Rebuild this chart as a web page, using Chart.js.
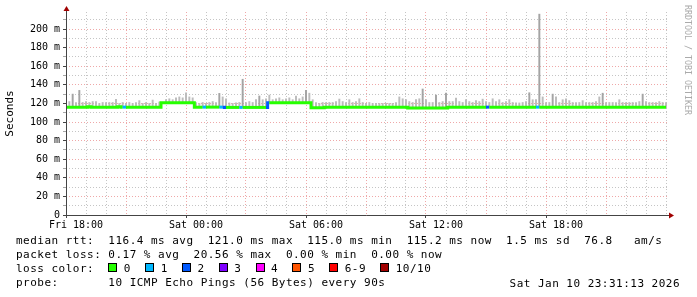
<!DOCTYPE html>
<html>
<head>
<meta charset="utf-8">
<title>smokeping median rtt</title>
<script src="https://cdn.jsdelivr.net/npm/chart.js@4.4.1/dist/chart.umd.min.js"></script>
<style>
  html, body { margin: 0; padding: 0; background: #fff; }
  #wrap { position: relative; width: 697px; height: 297px; overflow: hidden; }
  #c { position: absolute; left: 0; top: 0; }
  .stats {
    position: absolute; left: 16px; top: 233.5px; margin: 0;
    font: 11px 'DejaVu Sans Mono', monospace; letter-spacing: 0.48px;
    line-height: 14.33px; white-space: pre; color: #000;
  }
  .sw { display: inline-block; width: 7px; height: 7px; border: 1px solid #000;
        margin-right: 6.5px; vertical-align: 0px; }
  .stamp {
    position: absolute; right: 17px; top: 276.5px;
    font: 11px 'DejaVu Sans Mono', monospace; letter-spacing: 0.48px;
    line-height: 14.33px; white-space: pre; color: #000;
  }
  .mark {
    position: absolute; left: 683px; top: 5px;
    writing-mode: vertical-rl; font: 8.3px 'DejaVu Sans Mono', monospace;
    line-height: 9px; color: #aaa; white-space: pre;
  }
</style>
</head>
<body>
<div id="wrap">
  <canvas id="c" width="697" height="297"></canvas>
  <pre class="stats" id="stats"></pre>
  <div class="stamp" id="stamp"></div>
  <div class="mark">RRDTOOL / TOBI OETIKER</div>
</div>
<script>
// ---------- time axis (hours counted from Fri 00:00) ----------
const slotStart = 17.5;     // Fri 17:30
const slotMinutes = 10;
const axisMin = 17.5, axisMax = 47.6;
const xLabelHours = [18, 24, 30, 36, 42];
const xLabelText  = ['Fri 18:00', 'Sat 00:00', 'Sat 06:00', 'Sat 12:00', 'Sat 18:00'];
const yTickValues = [0,10,20,30,40,50,60,70,80,90,100,110,120,130,140,150,160,170,180,190,200,210];
const yMax = 218.3;

// ---------- median rtt (ms), one value per 10 min, one row per hour ----------
const median = [
  116,116,116,116,116,116,
  116,116.3,116,116,116,116,
  116,116,116,116,116.3,116,
  116,116,116,116,116,116,
  116,116,116,116,116,120.6,
  120.6,120.6,120.6,120.6,120.6,120.6,
  120.6,120.6,120.6,115.8,116,116,
  116,116,116,116,116,116,
  115.7,115.7,115.7,115.7,115.7,115.7,
  115.7,115.7,115.7,115.7,115.7,115.7,
  115.7,120.6,120.6,120.6,120.6,120.6,
  120.6,120.6,120.6,120.6,120.6,120.6,
  120.6,120.6,115.3,115.3,115.3,115.3,
  116,116,116,116,116,116,
  116,116,116,116,116,116,
  116,116,116,116,116,116,
  116,116,116,116,116,116,
  116,115,115,115,115,115,
  115,115,115,115,115,115,
  115,116,116,116,116,116,
  116,116,116,116,116,116,
  116,116,116,116,116,116,
  116,116,116,116,116,116,
  116,116,116,116,116,116,
  116,116,116,116,116,116,
  116,116,116,116,116,116,
  116,116,116,116,116,116,
  116,116,116,116,116,116,
  116,116,116,116,116,116,
  116,116,116,116,116,116,
  116
];

// ---------- smoke: highest ping per slot (ms) ----------
const smokeTop = [
  121,122,130,121,134,121,
  122,121,122,122,120,121,
  121,121,121,124.4,120,121,
  120,121,120,121,123,120,
  121,120,123.6,120,121.5,121,
  124,125,124,126,127,126,
  131.5,127,126,121,120,121,
  120,121,122,121,130.8,127,
  125,120.5,120,120.5,121,146,
  121,122,121,124,128,124,
  125,129,124,125,126,124,
  125,126,124,128,125,127,
  134,131,124,121,120,121,
  121,121,121,122,124.7,122,
  121,124,121,122,125,121,
  120,121,120,120,120,120,
  120,120,120,121,127,125,
  124,122,121,124,125,135.5,
  124,121,121,129,121,122,
  131,122,122,125.8,122,121,
  124,122,121,123,122,124.6,
  122,121,125,122,124,121,
  122,124,121,120.5,120.5,121,
  122,131.5,124,124,216,127,
  121,121,130,127,121,124,
  125,123,121,121,121,123,
  121,121,121,122,127,131,
  121,121,121,121,124,121,
  121,121,121,121,122,130,
  122,121,121,121,122,121,
  121
];

// ---------- lost pings out of 10 per slot (slot index -> count) ----------
const lossSlots  = [18, 42, 47, 48, 53, 61, 127, 142];
const lossCounts = [ 1,  1,  1,  2,  1,  2,   2,   1];

const lossLabels = ['0', '1', '2', '3', '4', '5', '6-9', '10/10'];
const lossColors = ['#26ff00', '#00b8ff', '#0059ff', '#7e00ff', '#ff00ff', '#ff5500', '#ff0000', '#a10000'];

const statLines = [
  'median rtt:  116.4 ms avg  121.0 ms max  115.0 ms min  115.2 ms now  1.5 ms sd  76.8   am/s',
  'packet loss: 0.17 % avg  20.56 % max  0.00 % min  0.00 % now',
];
const probeText = 'probe:       10 ICMP Echo Pings (56 Bytes) every 90s';
const stampText = 'Sat Jan 10 23:31:13 2026';

// ---------- helpers ----------
const times = median.map((_, i) => slotStart + i * slotMinutes / 60);
const loss = median.map(() => 0);
lossSlots.forEach((s, k) => { loss[s] = lossCounts[k]; });

function lossColor(n){
  if (n <= 5) return lossColors[n];
  if (n < 10) return lossColors[6];
  return lossColors[7];
}

const majorGrid = 'rgba(228,110,110,0.6)';
const minorGrid = 'rgba(150,150,150,0.55)';

// ---------- text block ----------
const statsEl = document.getElementById('stats');
statsEl.innerHTML = statLines.join('\n') + '\n' +
  'loss color:  ' + lossLabels.map((l, i) =>
    `<span class="sw" style="background:${lossColors[i]}"></span>${l}`).join('  ') + '\n' +
  probeText;
document.getElementById('stamp').textContent = stampText;

// ---------- axes with arrows ----------
const axesPlugin = {
  id: 'rrdAxes',
  afterDraw(chart){
    const { ctx, chartArea: a } = chart;
    ctx.save();
    ctx.strokeStyle = '#444';
    ctx.lineWidth = 1;
    ctx.beginPath();
    ctx.moveTo(a.left + 0.5, a.bottom + 3);
    ctx.lineTo(a.left + 0.5, a.top - 2);
    ctx.moveTo(a.left - 3, a.bottom + 0.5);
    ctx.lineTo(a.right + 2, a.bottom + 0.5);
    ctx.stroke();
    ctx.fillStyle = '#a00000';
    ctx.beginPath();
    ctx.moveTo(a.left - 2.5, a.top - 1);
    ctx.lineTo(a.left + 3.5, a.top - 1);
    ctx.lineTo(a.left + 0.5, a.top - 6);
    ctx.closePath();
    ctx.fill();
    ctx.beginPath();
    ctx.moveTo(a.right + 1, a.bottom - 2.5);
    ctx.lineTo(a.right + 1, a.bottom + 3.5);
    ctx.lineTo(a.right + 6, a.bottom + 0.5);
    ctx.closePath();
    ctx.fill();
    ctx.restore();
  }
};

Chart.defaults.font.family = "'DejaVu Sans Mono', monospace";

new Chart(document.getElementById('c'), {
  data: {
    datasets: [
      {
        type: 'line',
        label: 'median rtt',
        data: times.map((t, i) => ({ x: t, y: median[i] })),
        borderColor: lossColors[0],
        borderWidth: 3,
        borderCapStyle: 'butt',
        pointRadius: 0,
        stepped: 'middle',
        segment: { borderColor: c => lossColor(loss[c.p1DataIndex]) },
        order: 0
      },
      {
        type: 'bar',
        label: 'smoke',
        data: times.map((t, i) => ({ x: t, y: [median[i] - 0.5, smokeTop[i]] })),
        backgroundColor: c => {
          const r = c.raw;
          return (r && r.y[1] - r.y[0] > 12) ? '#a4a4a4' : '#bcbcbc';
        },
        borderWidth: 0,
        barThickness: 1.3,
        grouped: false,
        order: 1
      }
    ]
  },
  options: {
    responsive: false,
    animation: false,
    events: [],
    layout: { padding: { top: 12, right: 29, left: 0, bottom: 0 } },
    plugins: { legend: { display: false }, tooltip: { enabled: false } },
    scales: {
      x: {
        type: 'linear',
        min: axisMin, max: axisMax,
        offset: false,
        afterBuildTicks: s => {
          const t = [];
          for (let h = 18; h <= 47; h++) t.push({ value: h });
          s.ticks = t;
        },
        afterFit: s => { s.height = 82; },
        grid: {
          color: c => (c.tick && c.tick.value % 3 === 0) ? majorGrid : minorGrid,
          lineWidth: 1,
          tickLength: 3,
          tickColor: c => (c.tick && c.tick.value % 6 === 0) ? '#444' : 'rgba(0,0,0,0)'
        },
        border: { display: false, dash: [1, 2] },
        ticks: {
          autoSkip: false, maxRotation: 0, padding: 1,
          color: '#000', font: { size: 10 },
          callback: v => {
            const k = xLabelHours.indexOf(v);
            return k >= 0 ? xLabelText[k] : '';
          }
        }
      },
      y: {
        type: 'linear',
        min: 0, max: yMax,
        afterBuildTicks: s => { s.ticks = yTickValues.map(v => ({ value: v })); },
        afterFit: s => { s.width = 66; },
        grid: {
          color: c => (c.tick && c.tick.value % 20 === 0) ? majorGrid : minorGrid,
          lineWidth: 1,
          tickLength: 3,
          tickColor: c => (c.tick && c.tick.value % 20 === 0) ? '#444' : 'rgba(0,0,0,0.35)'
        },
        border: { display: false, dash: [1, 2] },
        ticks: {
          autoSkip: false, padding: 3,
          color: '#000', font: { size: 10 },
          callback: v => v === 0 ? '0' : (v % 20 === 0 ? v + ' m' : '')
        },
        title: {
          display: true, text: 'Seconds', color: '#000',
          font: { size: 11 }, padding: { top: 4, bottom: 4 }
        }
      }
    }
  },
  plugins: [axesPlugin]
});
</script>
</body>
</html>
